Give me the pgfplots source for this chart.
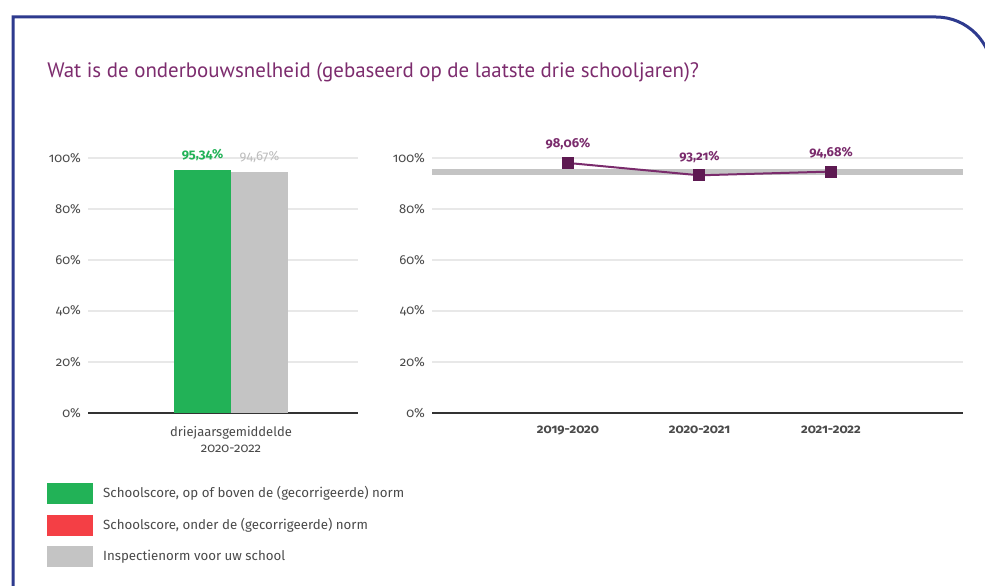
\documentclass[border=0pt]{standalone}
\usepackage{fontspec}
\setmainfont{Fira Sans}[Numbers=OldStyle]
\newfontfamily\onum{Fira Sans}[Numbers=OldStyle]
\newfontfamily\titlefont{PT Sans}
\usepackage{pgfplots}
\pgfplotsset{compat=1.18}
\definecolor{cgreen}{HTML}{22B257}
\definecolor{cred}{HTML}{F43F45}
\definecolor{cgray}{HTML}{C4C4C4}
\definecolor{cgraytxt}{HTML}{BDBDBD}
\definecolor{cpurple}{HTML}{7A2B6C}
\definecolor{cpurpled}{HTML}{5E1A52}
\definecolor{ctitle}{HTML}{7D2C6E}
\definecolor{cframe}{HTML}{2E3A8E}
\definecolor{ctick}{HTML}{4A4A4A}
\definecolor{cgrid}{HTML}{E8E8E8}
\pgfplotsset{
  /pgf/number format/assume math mode=true,
  panel/.style={
    scale only axis, height=127.5pt, ymin=0, ymax=100,
    ytick={0,20,...,100},
    yticklabel={\onum\pgfmathprintnumber{\tick}\%},
    ymajorgrids, grid style={draw=cgrid, line width=0.6pt},
    axis x line*=bottom, axis y line*=left,
    y axis line style={draw=none},
    x axis line style={draw=black!80, line width=1pt},
    tick style={draw=none},
    ticklabel style={font=\onum\fontsize{6.5}{8}\selectfont, text=ctick},
    clip=false,
  },
}
\begin{document}
\begin{tikzpicture}
\useasboundingbox (0,0) rectangle (492.5pt,292.5pt);
\fill[white] (0,0) rectangle (492.5pt,292.5pt);
\draw[cframe, line width=1.5pt] (6.5pt,-5pt) -- (6.5pt,284pt) -- (468pt,284pt) arc[start angle=90, end angle=0, radius=28pt] -- ++(0,-300pt);
\node[anchor=base west, inner sep=0pt, text=ctitle, font=\titlefont\fontsize{10.45}{12}\selectfont] at (23.5pt,253.5pt) {Wat is de onderbouwsnelheid (gebaseerd op de laatste drie schooljaren)?};

\begin{axis}[panel, at={(44pt,86pt)}, anchor=south west, width=135pt,
  xmin=-143, xmax=127, xtick={0},
  xticklabels={driejaarsgemiddelde\\\onum 2020-2022},
  xticklabel style={align=center, yshift=-3pt},
  legend style={at={(-0.152,-0.27)}, anchor=north west, draw=none, fill=none,
    inner sep=0pt, row sep=4.75pt, font=\fontsize{6.65}{8}\selectfont, text=ctick,
    cells={anchor=west}},
  legend image code/.code={\fill[#1] (0pt,-5pt) rectangle (22.5pt,5pt);},
  legend cell align=left,
]
\addplot[ybar, bar width=28.5pt, bar shift=-14.25pt, fill=cgreen, draw=none, forget plot,
  nodes near coords={\onum\pgfmathprintnumber[fixed, precision=2, fixed zerofill, use comma]{\pgfplotspointmeta}\%},
  every node near coord/.append style={text=cgreen, font=\onum\bfseries\fontsize{6.5}{8}\selectfont, xshift=-14.25pt, yshift=1pt}]
  coordinates {(0,95.34)};
\addplot[ybar, bar width=28.5pt, bar shift=14.25pt, fill=cgray, draw=none, forget plot,
  nodes near coords={\onum\pgfmathprintnumber[fixed, precision=2, fixed zerofill, use comma]{\pgfplotspointmeta}\%},
  every node near coord/.append style={text=cgraytxt, font=\onum\fontsize{6.5}{8}\selectfont, xshift=14.25pt, yshift=1pt}]
  coordinates {(0,94.67)};
\addlegendimage{cgreen}
\addlegendentry{\hspace{3pt}Schoolscore, op of boven de (gecorrigeerde) norm}
\addlegendimage{cred}
\addlegendentry{\hspace{3pt}Schoolscore, onder de (gecorrigeerde) norm}
\addlegendimage{cgray}
\addlegendentry{\hspace{3pt}Inspectienorm voor uw school}
\end{axis}

\begin{axis}[panel, at={(216pt,86pt)}, anchor=south west, width=265.5pt,
  xmin=-1.034, xmax=3.004, xtick={0,1,2},
  xticklabels={\onum\bfseries 2019-2020,\onum\bfseries 2020-2021,\onum\bfseries 2021-2022},
  xticklabel style={yshift=-3pt},
]
\addplot[cgray, line width=3pt] coordinates {(-1.034,94.67) (3.004,94.67)};
\addplot[cpurple, line width=1pt, mark=square*, mark size=2.5pt,
  mark options={fill=cpurpled, draw=cpurpled},
  nodes near coords={\onum\pgfmathprintnumber[fixed, precision=2, fixed zerofill, use comma]{\pgfplotspointmeta}\%},
  every node near coord/.append style={text=cpurple, font=\onum\bfseries\fontsize{6.5}{8}\selectfont, yshift=2.5pt}]
  coordinates {(0,98.06) (1,93.21) (2,94.68)};
\end{axis}
\end{tikzpicture}
\end{document}
